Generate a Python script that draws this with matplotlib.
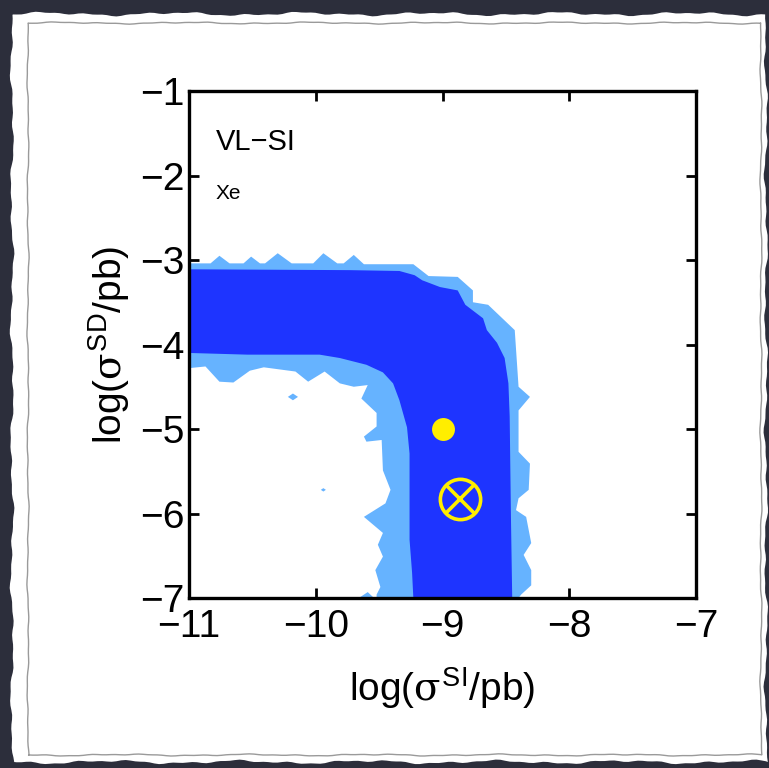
import numpy as np
import matplotlib
matplotlib.use("Agg")
import matplotlib.pyplot as plt
from matplotlib.patches import Polygon

plt.rcParams['font.family'] = ['Liberation Sans', 'DejaVu Sans']
plt.rcParams['mathtext.fontset'] = 'custom'
plt.rcParams['mathtext.rm'] = 'Liberation Sans'
plt.rcParams['mathtext.it'] = 'DejaVu Serif'
plt.rcParams['mathtext.bf'] = 'Liberation Sans:bold'

# 95% region (light blue): outer edge (top then right side)
outer95_x = [-11.0, -10.83, -10.76, -10.68, -10.57, -10.51, -10.44, -10.40, -10.30, -10.19,
             -10.02, -9.94, -9.83, -9.78, -9.70, -9.62, -9.23, -9.11, -8.88, -8.76,
             -8.76, -8.64, -8.43, -8.40, -8.31, -8.40, -8.40, -8.31, -8.32, -8.40,
             -8.42, -8.34, -8.30, -8.36, -8.30, -8.30, -8.38, -8.40]
outer95_y = [-3.04, -3.04, -2.95, -3.04, -3.04, -2.96, -3.04, -3.04, -2.92, -3.04,
             -3.04, -2.92, -3.04, -3.04, -2.94, -3.05, -3.05, -3.19, -3.20, -3.36,
             -3.50, -3.53, -3.83, -4.50, -4.62, -4.78, -5.27, -5.41, -5.72, -5.82,
             -5.96, -6.04, -6.35, -6.49, -6.67, -6.85, -6.96, -7.0]
# inner edge (bottom of horizontal arm, left side of vertical arm)
inner95_x = [-11.0, -10.87, -10.76, -10.65, -10.52, -10.41, -10.16, -10.06, -9.93, -9.81,
             -9.70, -9.59, -9.64, -9.52, -9.52, -9.62, -9.60, -9.48, -9.47, -9.41,
             -9.45, -9.62, -9.47, -9.51, -9.47, -9.53, -9.49, -9.52, -9.52]
inner95_y = [-4.28, -4.26, -4.44, -4.45, -4.31, -4.27, -4.32, -4.44, -4.32, -4.46,
             -4.50, -4.48, -4.64, -4.81, -4.97, -5.09, -5.15, -5.13, -5.49, -5.72,
             -5.88, -6.04, -6.23, -6.37, -6.51, -6.67, -6.87, -6.96, -7.0]

# small isolated 95% islands
islands = [
    ([-10.22, -10.18, -10.14, -10.18], [-4.62, -4.58, -4.62, -4.66]),
    ([-9.96, -9.94, -9.92, -9.94], [-5.72, -5.70, -5.72, -5.74]),
    ([-9.66, -9.59, -9.54], [-7.0, -6.93, -7.0]),
]

# 68% region (dark blue)
outer68_x = [-11.0, -9.73, -9.34, -9.22, -9.16, -9.02, -8.88, -8.82, -8.68, -8.65,
             -8.57, -8.51, -8.48, -8.47, -8.46, -8.45]
outer68_y = [-3.11, -3.12, -3.13, -3.18, -3.24, -3.32, -3.36, -3.53, -3.69, -3.83,
             -3.98, -4.16, -4.46, -4.85, -6.04, -7.0]
inner68_x = [-11.0, -10.54, -9.97, -9.81, -9.60, -9.47, -9.39, -9.34, -9.28, -9.26,
             -9.26, -9.26, -9.24, -9.23]
inner68_y = [-4.10, -4.12, -4.12, -4.16, -4.24, -4.33, -4.46, -4.66, -4.98, -5.29,
             -5.76, -6.31, -6.70, -7.0]

best_fit = (-9.0, -5.0)
true_point = (-8.86, -5.83)

x_ticks = [-11, -10, -9, -8, -7]
y_ticks = [-1, -2, -3, -4, -5, -6, -7]

light = '#66b3ff'
dark = '#1e34ff'
yellow = '#ffee00'

fig = plt.figure(figsize=(7.69, 7.68), dpi=100)
fig.patch.set_facecolor('#2c2e3b')

# paper background with slightly ragged edges (deterministic wobble)
def wobbly_rect(l, b, r, t, amp, n=160):
    s = np.linspace(0, 1, n)
    w = lambda k: amp * (np.sin(37 * s + k) * 0.5 + np.sin(91 * s + 2 * k) * 0.3 + np.sin(203 * s + 3 * k) * 0.2)
    xs = np.concatenate([l + (r - l) * s, r + w(1), r - (r - l) * s, l + w(2)])
    ys = np.concatenate([b + w(3), b + (t - b) * s, t + w(4), t - (t - b) * s])
    return np.column_stack([xs, ys])

W, H = 769.0, 768.0
paper = wobbly_rect(12 / W, 1 - 762 / H, 766 / W, 1 - 14 / H, 2.5 / W)
fig.patches.append(Polygon(paper, closed=True, transform=fig.transFigure,
                           facecolor='white', edgecolor='none', zorder=-3))
inner_line = wobbly_rect(28 / W, 1 - 755 / H, 761 / W, 1 - 23 / H, 1.2 / W)
fig.patches.append(Polygon(inner_line, closed=True, transform=fig.transFigure,
                           facecolor='none', edgecolor='#9a9a9a', lw=1.0, zorder=-2))

ax = fig.add_axes([189 / W, 1 - 598 / H, 507 / W, 507 / H])
ax.set_zorder(2)

ax.fill(outer95_x + inner95_x[::-1], outer95_y + inner95_y[::-1],
        color=light, lw=0, zorder=1)
for ix, iy in islands:
    ax.fill(ix, iy, color=light, lw=0, zorder=1)
ax.fill(outer68_x + inner68_x[::-1], outer68_y + inner68_y[::-1],
        color=dark, lw=0, zorder=2)

ax.plot(*best_fit, 'o', color=yellow, markersize=16.5, mec='none', zorder=4)
ax.plot(*true_point, 'o', mfc='none', mec=yellow, mew=2.6, markersize=29, zorder=4)
ax.plot(*true_point, 'x', color=yellow, mew=2.6, markersize=20.5, zorder=4)

ax.text(-10.79, -1.60, 'VL\u2212SI', fontsize=21, va='center', ha='left')
ax.text(-10.79, -2.21, 'Xe', fontsize=15, va='center', ha='left')

ax.set_xlim(-11, -7)
ax.set_ylim(-7, -1)
ax.set_xticks(x_ticks)
ax.set_yticks(y_ticks)
ax.set_xticklabels(['\u2212%d' % abs(v) for v in x_ticks])
ax.set_yticklabels(['\u2212%d' % abs(v) for v in y_ticks])
ax.tick_params(direction='in', length=7, width=2, top=True, right=True, labelsize=28)
ax.tick_params(axis='x', pad=8)
ax.tick_params(axis='y', pad=3)
for sp in ax.spines.values():
    sp.set_linewidth(2.4)

ax.set_xlabel(r'log($\sigma^{\mathrm{SI}}$/pb)', fontsize=28, labelpad=15)
ax.set_ylabel(r'log($\sigma^{\mathrm{SD}}$/pb)', fontsize=28, labelpad=6)

fig.savefig('out.png', dpi=100, facecolor=fig.get_facecolor())
